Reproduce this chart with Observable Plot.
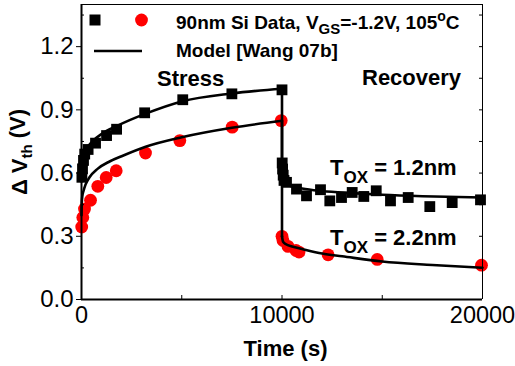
<!DOCTYPE html>
<html><head><meta charset="utf-8">
<script src="https://cdn.jsdelivr.net/npm/d3@7"></script>
<script src="https://cdn.jsdelivr.net/npm/@observablehq/plot@0.6"></script>
<style>body{margin:0;background:#fff}#chart svg{display:block}</style>
</head><body><div id="chart"></div>
<script>
// ---- Data ----
// Tox = 1.2 nm measured data (black squares): stress then recovery
const sqStressT = [20, 50, 100, 160, 330, 700, 1250, 1750, 3150, 5050, 7500, 10000];
const sqStressV = [0.58, 0.62, 0.66, 0.69, 0.712, 0.742, 0.778, 0.808, 0.886, 0.948, 0.976, 0.995];
const sqRecT = [10010, 10030, 10060, 10100, 10224, 10723, 11222, 11920, 12384, 12968, 13501, 14080, 14700, 15411, 16294, 17372, 18488, 19900];
const sqRecV = [0.648, 0.619, 0.59, 0.565, 0.556, 0.524, 0.492, 0.521, 0.468, 0.484, 0.508, 0.489, 0.516, 0.468, 0.484, 0.441, 0.46, 0.473];
// Tox = 2.2 nm measured data (red circles)
const ciStressT = [10, 65, 150, 450, 813, 1232, 1731, 3192, 4903, 7516, 9960];
const ciStressV = [0.344, 0.389, 0.429, 0.471, 0.537, 0.579, 0.611, 0.695, 0.754, 0.818, 0.849];
const ciRecT = [10000, 10050, 10300, 10700, 10850, 12300, 14750, 19950];
const ciRecV = [0.30, 0.28, 0.252, 0.233, 0.225, 0.212, 0.19, 0.163];
// Model [Wang 07b] curves
const m12StressT = [0, 30, 100, 300, 600, 1000, 1800, 3200, 5000, 7500, 10000];
const m12StressV = [0.56, 0.63, 0.67, 0.72, 0.755, 0.785, 0.825, 0.882, 0.94, 0.978, 1.0];
const m12RecT = [10000, 10050, 10150, 10400, 11000, 12000, 13500, 15000, 17000, 20000];
const m12RecV = [0.6, 0.57, 0.553, 0.54, 0.527, 0.515, 0.505, 0.497, 0.49, 0.484];
const m22StressT = [0, 10, 40, 100, 200, 400, 800, 1400, 2000, 3200, 5000, 7500, 10000];
const m22StressV = [0.40, 0.45, 0.49, 0.515, 0.545, 0.58, 0.62, 0.655, 0.68, 0.725, 0.77, 0.815, 0.848];
const m22RecT = [10000, 10050, 10200, 10500, 11000, 12000, 13000, 15000, 17500, 20000];
const m22RecV = [0.30, 0.275, 0.262, 0.252, 0.24, 0.218, 0.205, 0.18, 0.164, 0.151];
// Axis ticks
const yTicks = [0, 0.3, 0.6, 0.9, 1.2];
const yMinor = [0.15, 0.45, 0.75, 1.05, 1.35];
const yAllTicks = [0.15, 0.3, 0.45, 0.6, 0.75, 0.9, 1.05, 1.2, 1.35];
const xTicks = [0, 10000, 20000];
const xInTicks = [5000, 10000, 15000];

// ---- Build tables ----
const pts = (T, V, seg) => T.map((t, i) => ({t, v: V[i], seg}));
const squares = [...pts(sqStressT, sqStressV, "s"), ...pts(sqRecT, sqRecV, "r")];
const circles = [...pts(ciStressT, ciStressV, "s"), ...pts(ciRecT, ciRecV, "r")];
const modelSmooth = [
  ...pts(m12StressT, m12StressV, "a"), ...pts(m12RecT, m12RecV, "b"),
  ...pts(m22StressT, m22StressV, "c"), ...pts(m22RecT, m22RecV, "d")
];
const modelDrops = [
  {t: m12StressT.at(-1), v: m12StressV.at(-1), seg: "a"}, {t: m12RecT[0], v: m12RecV[0], seg: "a"},
  {t: m22StressT.at(-1), v: m22StressV.at(-1), seg: "c"}, {t: m22RecT[0], v: m22RecV[0], seg: "c"}
];

const FONT = "'Liberation Sans', Arial, Helvetica, sans-serif";
const W = 515, H = 366, mT = 4, mR = 33, mB = 67, mL = 81;
const fw = W - mL - mR, fh = H - mT - mB;

const plot = Plot.plot({
  width: W, height: H, marginTop: mT, marginRight: mR, marginBottom: mB, marginLeft: mL,
  style: {fontFamily: FONT, background: "white", color: "black", overflow: "visible"},
  x: {domain: [0, 20000]},
  y: {domain: [0, 1.4]},
  marks: [
    Plot.dot(squares, {x: "t", y: "v", symbol: "square", r: 6.1, fill: "black"}),
    Plot.dot(circles, {x: "t", y: "v", symbol: "circle", r: 6.4, fill: "#ff0000"}),
    Plot.line(modelSmooth, {x: "t", y: "v", z: "seg", stroke: "black", strokeWidth: 2.6, curve: "monotone-x"}),
    Plot.line(modelDrops, {x: "t", y: "v", z: "seg", stroke: "black", strokeWidth: 2.6}),
    // frame
    Plot.ruleX([0], {stroke: "black", strokeWidth: 2}),
    Plot.ruleY([0], {stroke: "black", strokeWidth: 2}),
    Plot.ruleY([1.4], {stroke: "black", strokeWidth: 1}),
    Plot.ruleX([20000], {stroke: "black", strokeWidth: 1}),
    // ticks
    Plot.axisY({ticks: yTicks, tickFormat: d3.format(".1f"), tickSize: 5, tickPadding: 3, fontSize: 24, label: null}),
    Plot.tickY(yMinor, {y: d => d, insetRight: fw - 3, stroke: "black"}),
    Plot.tickY(yAllTicks, {y: d => d, insetLeft: fw - 3, stroke: "black"}),
    Plot.tickX(xInTicks, {x: d => d, insetTop: fh - 4, stroke: "black"}),
    Plot.axisX({ticks: xTicks, tickFormat: d => String(d), tickSize: 0, tickPadding: 7, fontSize: 23.5, label: null})
  ]
});
document.getElementById("chart").append(plot);

// ---- Rich text: labels, legend, annotations ----
const svg = d3.select(plot);
const g = svg.append("g").attr("font-family", FONT).attr("fill", "black")
  .attr("font-weight", "bold").attr("text-anchor", "start");

// y label
const yl = g.append("text").attr("transform", "translate(27,152) rotate(-90)")
  .attr("text-anchor", "middle").attr("font-size", 22);
yl.append("tspan").text("\u0394 V");
yl.append("tspan").attr("font-size", 15).attr("dy", "0.35em").text("th");
yl.append("tspan").attr("dy", "-0.35em").text(" (V)");

// x label
g.append("text").attr("x", mL + fw / 2 + 4).attr("y", 356).attr("text-anchor", "middle")
  .attr("font-size", 22).text("Time (s)");

// legend
svg.append("rect").attr("x", 89.5).attr("y", 14.5).attr("width", 11).attr("height", 11).attr("fill", "black");
svg.append("circle").attr("cx", 141.5).attr("cy", 20).attr("r", 6.4).attr("fill", "#ff0000");
svg.append("line").attr("x1", 94).attr("x2", 142).attr("y1", 51).attr("y2", 51)
  .attr("stroke", "black").attr("stroke-width", 2.6);
const l1 = g.append("text").attr("x", 176).attr("y", 28.5).attr("font-size", 19);
l1.append("tspan").text("90nm Si Data, V");
l1.append("tspan").attr("font-size", 15).attr("dy", 5).text("GS");
l1.append("tspan").attr("dy", -5).text("=-1.2V, 105");
l1.append("tspan").attr("font-size", 14).attr("dy", -8).text("o");
l1.append("tspan").attr("dy", 8).text("C");
g.append("text").attr("x", 176).attr("y", 56.5).attr("font-size", 19).text("Model [Wang 07b]");

// annotations
g.append("text").attr("x", 157).attr("y", 86).attr("font-size", 22).text("Stress");
g.append("text").attr("x", 362).attr("y", 85).attr("font-size", 22).text("Recovery");
function tox(y, val) {
  const t = g.append("text").attr("x", 330).attr("y", y).attr("font-size", 22);
  t.append("tspan").text("T");
  t.append("tspan").attr("font-size", 17).attr("dy", 8).text("OX");
  t.append("tspan").attr("dy", -8).text(" = " + val);
}
tox(175, "1.2nm");
tox(245, "2.2nm");
</script>
</body></html>
